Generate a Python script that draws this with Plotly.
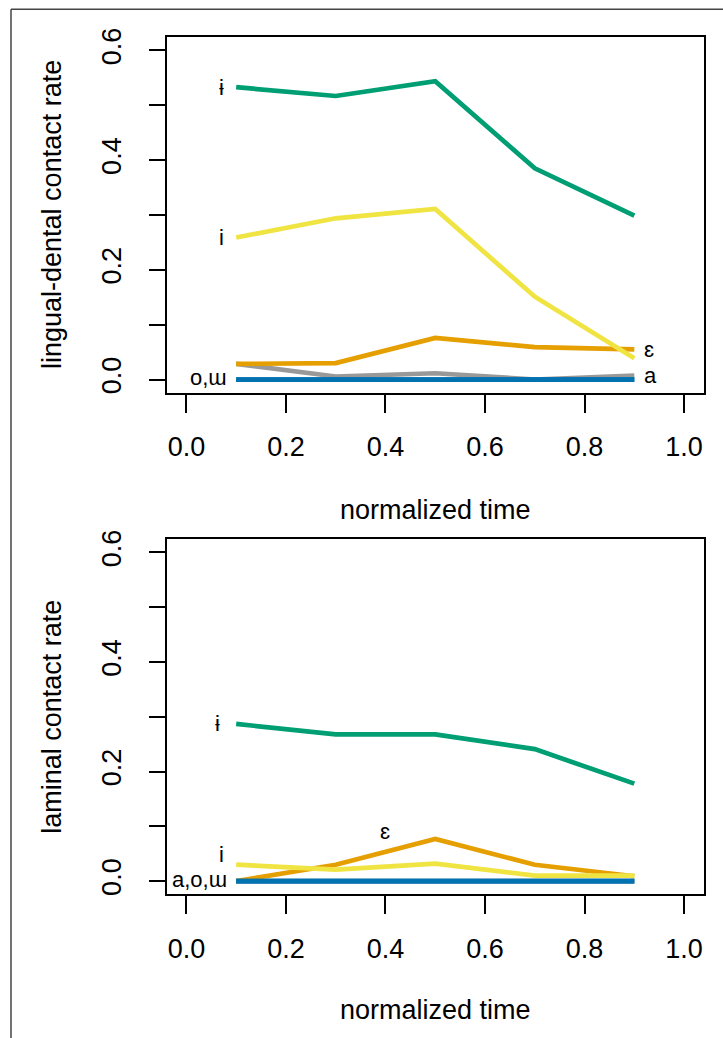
import plotly.graph_objects as go

# time points (normalized)
times = [0.1, 0.3, 0.5, 0.7, 0.9]

# lingual-dental contact rate (top panel)
ld_a = [0.0285, 0.0055, 0.0115, 0.0, 0.007]
ld_eh = [0.0285, 0.030, 0.076, 0.059, 0.055]
ld_i = [0.259, 0.294, 0.311, 0.151, 0.039]
ld_ibar = [0.533, 0.517, 0.544, 0.385, 0.299]
ld_o = [0.0, 0.0, 0.0, 0.0, 0.0]
ld_uu = [0.0, 0.0, 0.0, 0.0, 0.0]

# laminal contact rate (bottom panel)
lam_a = [0.0, 0.0, 0.0, 0.0, 0.0]
lam_eh = [0.0, 0.030, 0.077, 0.030, 0.009]
lam_i = [0.030, 0.021, 0.032, 0.010, 0.010]
lam_ibar = [0.287, 0.268, 0.268, 0.241, 0.178]
lam_o = [0.0, 0.0, 0.0, 0.0, 0.0]
lam_uu = [0.0, 0.0, 0.0, 0.0, 0.0]

x_ticks = [0.0, 0.2, 0.4, 0.6, 0.8, 1.0]
x_ticktext = ["0.0", "0.2", "0.4", "0.6", "0.8", "1.0"]
y_ticks = [0.0, 0.1, 0.2, 0.3, 0.4, 0.5, 0.6]
y_ticktext = ["0.0", "", "0.2", "", "0.4", "", "0.6"]

colors = {"a": "#999999", "eh": "#E69F00", "i": "#F0E442",
          "ibar": "#009E73", "o": "#0072B2", "uu": "#0072B2"}

FONT = "Liberation Sans, Arial, sans-serif"
W, H = 723, 1038

fig = go.Figure()

panels = [
    ("x", "y", [("a", ld_a), ("eh", ld_eh), ("i", ld_i), ("ibar", ld_ibar), ("o", ld_o), ("uu", ld_uu)]),
    ("x2", "y2", [("a", lam_a), ("eh", lam_eh), ("i", lam_i), ("ibar", lam_ibar), ("o", lam_o), ("uu", lam_uu)]),
]
for xa, ya, series in panels:
    for key, vals in series:
        fig.add_trace(go.Scatter(x=times, y=vals, mode="lines", xaxis=xa, yaxis=ya,
                                 line=dict(color=colors[key], width=4.7),
                                 showlegend=False, hoverinfo="skip"))

# panel boxes in pixels -> paper fractions
xdom = [166.5 / W, 704 / W]
top_dom = [1 - 392.7 / H, 1 - 37.3 / H]
bot_dom = [1 - 894.3 / H, 1 - 539.3 / H]

xax = dict(range=[-0.04, 1.04], tickvals=x_ticks, ticktext=x_ticktext, ticks="outside",
           ticklen=18, tickwidth=1.5, tickcolor="black", showline=True, mirror=True,
           linecolor="black", linewidth=1.8, showgrid=False, zeroline=False,
           tickfont=dict(family=FONT, size=27, color="black"), ticklabelstandoff=11,
           automargin=False, domain=xdom)
yax = dict(range=[-0.024, 0.624], tickvals=y_ticks, ticktext=y_ticktext, ticks="outside",
           ticklen=16, tickwidth=1.5, tickcolor="black", showline=True, mirror=True,
           linecolor="black", linewidth=1.8, showgrid=False, zeroline=False,
           tickangle=-90, tickfont=dict(family=FONT, size=27, color="black"),
           ticklabelstandoff=17, automargin=False)

fig.update_layout(
    width=W, height=H, margin=dict(l=0, r=0, t=0, b=0),
    paper_bgcolor="white", plot_bgcolor="white", template="none",
    xaxis=dict(xax, anchor="y"), yaxis=dict(yax, domain=top_dom, anchor="x"),
    xaxis2=dict(xax, anchor="y2"), yaxis2=dict(yax, domain=bot_dom, anchor="x2"),
)

lab = dict(family=FONT, size=22, color="black")
notes = [
    # top panel labels
    ("x", "y", 0.1, ld_ibar[0], "ɨ", "right", -10, 0),
    ("x", "y", 0.1, ld_i[0], "i", "right", -10, 0),
    ("x", "y", 0.1, ld_o[0], "o,ɯ", "right", -7, 2),
    ("x", "y", 0.9, ld_eh[-1], "ɛ", "left", 8, 0),
    ("x", "y", 0.9, ld_a[-1], "a", "left", 8, 0),
    # bottom panel labels
    ("x2", "y2", 0.1, lam_ibar[0], "ɨ", "right", -14, 0),
    ("x2", "y2", 0.1, lam_i[0], "i", "right", -10, 10),
    ("x2", "y2", 0.1, lam_a[0], "a,o,ɯ", "right", -7, 2),
    ("x2", "y2", 0.4, 0.091, "ɛ", "center", 0, 0),
]
for xr, yr, xv, yv, txt, anc, xs, ys in notes:
    fig.add_annotation(x=xv, y=yv, xref=xr, yref=yr, text=txt, showarrow=False,
                       xanchor=anc, yanchor="middle", xshift=xs, yshift=ys, font=lab)

title_font = dict(family=FONT, size=27, color="black")
xmid = (xdom[0] + xdom[1]) / 2
fig.add_annotation(x=xmid, y=1 - 510 / H, xref="paper", yref="paper", text="normalized time",
                   showarrow=False, xanchor="center", yanchor="middle", font=title_font)
fig.add_annotation(x=xmid, y=1 - 1010 / H, xref="paper", yref="paper", text="normalized time",
                   showarrow=False, xanchor="center", yanchor="middle", font=title_font)
fig.add_annotation(x=52 / W, y=sum(top_dom) / 2, xref="paper", yref="paper",
                   text="lingual-dental contact rate", textangle=-90, showarrow=False,
                   xanchor="center", yanchor="middle", font=title_font)
fig.add_annotation(x=52 / W, y=sum(bot_dom) / 2, xref="paper", yref="paper",
                   text="laminal contact rate", textangle=-90, showarrow=False,
                   xanchor="center", yanchor="middle", font=title_font)

# outer frame (top and left edges visible)
fig.add_shape(type="line", xref="paper", yref="paper", x0=11 / W, x1=1.0,
              y0=1 - 9.3 / H, y1=1 - 9.3 / H, line=dict(color="#444444", width=1.5))
fig.add_shape(type="line", xref="paper", yref="paper", x0=11 / W, x1=11 / W,
              y0=0, y1=1 - 9.3 / H, line=dict(color="#444444", width=1.5))

fig.write_html("out.html", config={"displayModeBar": False},
               post_script="document.body.style.margin='0';")
